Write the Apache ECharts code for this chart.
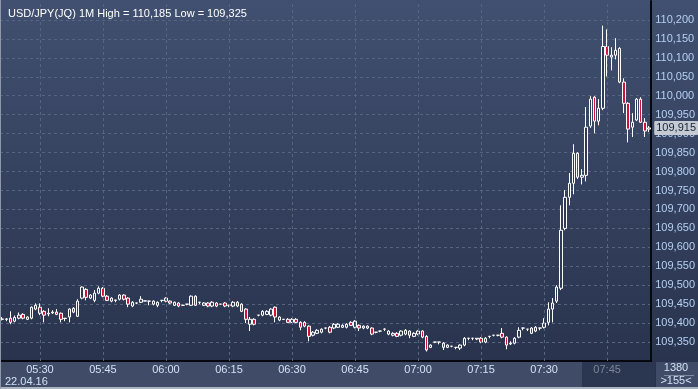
<!DOCTYPE html>
<html><head><meta charset="utf-8">
<script src="https://cdn.jsdelivr.net/npm/echarts@6/dist/echarts.min.js"></script>
<style>html,body{margin:0;padding:0;background:#2c3753}#c{width:698px;height:389px}</style>
</head><body><div id="c"></div><script>
const titleText = 'USD/JPY(JQ) 1M High = 110,185 Low = 109,325';
const dateText = '22.04.16';
const barCountText = '1380';
const visibleText = '>155<';
const times = ['05:21','05:22','05:23','05:24','05:25','05:26','05:27','05:28','05:29','05:30','05:31','05:32','05:33','05:34','05:35','05:36','05:37','05:38','05:39','05:40','05:41','05:42','05:43','05:44','05:45','05:46','05:47','05:48','05:49','05:50','05:51','05:52','05:53','05:54','05:55','05:56','05:57','05:58','05:59',
'06:00','06:01','06:02','06:03','06:04','06:05','06:06','06:07','06:08','06:09','06:10','06:11','06:12','06:13','06:14','06:15','06:16','06:17','06:18','06:19','06:20','06:21','06:22','06:23','06:24','06:25','06:26','06:27','06:28','06:29','06:30','06:31','06:32','06:33','06:34','06:35','06:36','06:37','06:38','06:39','06:40','06:41','06:42','06:43','06:44','06:45','06:46','06:47','06:48','06:49','06:50','06:51','06:52','06:53','06:54','06:55','06:56','06:57','06:58','06:59',
'07:00','07:01','07:02','07:03','07:04','07:05','07:06','07:07','07:08','07:09','07:10','07:11','07:12','07:13','07:14','07:15','07:16','07:17','07:18','07:19','07:20','07:21','07:22','07:23','07:24','07:25','07:26','07:27','07:28','07:29','07:30','07:31','07:32','07:33','07:34','07:35','07:36','07:37','07:38','07:39','07:40','07:41','07:42','07:43','07:44','07:45','07:46','07:47','07:48','07:49','07:50','07:51','07:52','07:53','07:54','07:55'];
const timeTicks = ['05:30','05:45','06:00','06:15','06:30','06:45','07:00','07:15','07:30','07:45'];
const opens = [109.410,109.411,109.413,109.405,109.413,109.423,109.410,109.413,109.437,109.442,
109.431,109.424,109.427,109.429,109.426,109.412,109.416,109.439,109.418,109.466,
109.489,109.466,109.460,109.479,109.492,109.471,109.458,109.461,109.463,109.474,
109.466,109.445,109.453,109.455,109.458,109.458,109.450,109.447,109.460,109.466,
109.458,109.447,109.453,109.447,109.450,109.447,109.471,109.455,109.447,109.453,
109.445,109.453,109.450,109.453,109.447,109.445,109.455,109.450,109.437,109.397,
109.410,109.421,109.421,109.423,109.421,109.442,109.408,109.410,109.410,109.402,
109.410,109.402,109.402,109.392,109.368,109.373,109.376,109.387,109.389,109.387,
109.389,109.389,109.389,109.402,109.389,109.394,109.387,109.387,109.387,109.376,
109.379,109.384,109.371,109.368,109.373,109.368,109.371,109.379,109.365,109.371,
109.379,109.365,109.336,109.350,109.350,109.347,109.336,109.339,109.336,109.334,
109.342,109.360,109.360,109.360,109.360,109.350,109.365,109.368,109.368,109.373,
109.363,109.345,109.347,109.363,109.387,109.384,109.387,109.379,109.387,109.389,
109.402,109.437,109.458,109.492,109.650,109.732,109.769,109.848,109.785,109.790,
109.920,109.996,109.933,109.967,110.130,110.107,110.107,110.125,110.036,109.980,
109.917,109.936,109.991,109.930,109.912];
const closes = [109.411,109.410,109.402,109.415,109.421,109.413,109.416,109.442,109.447,109.426,
109.421,109.426,109.429,109.423,109.410,109.413,109.437,109.429,109.458,109.495,
109.468,109.474,109.479,109.492,109.471,109.460,109.466,109.460,109.474,109.463,
109.450,109.455,109.453,109.463,109.459,109.458,109.458,109.455,109.460,109.458,
109.453,109.455,109.445,109.447,109.450,109.471,109.447,109.455,109.453,109.445,
109.455,109.445,109.450,109.445,109.447,109.455,109.445,109.431,109.410,109.410,
109.397,109.421,109.431,109.431,109.437,109.416,109.416,109.410,109.402,109.410,
109.402,109.389,109.392,109.365,109.376,109.381,109.384,109.387,109.376,109.397,
109.397,109.394,109.397,109.394,109.405,109.387,109.392,109.392,109.371,109.376,
109.379,109.384,109.379,109.373,109.365,109.379,109.381,109.368,109.373,109.379,
109.363,109.329,109.342,109.350,109.350,109.336,109.342,109.339,109.336,109.342,
109.360,109.360,109.360,109.358,109.350,109.360,109.365,109.368,109.368,109.363,
109.342,109.347,109.360,109.381,109.387,109.384,109.373,109.389,109.387,109.400,
109.437,109.453,109.495,109.645,109.732,109.769,109.848,109.785,109.790,109.917,
109.991,109.933,109.967,110.130,110.107,110.102,110.120,110.036,109.980,109.912,
109.930,109.991,109.930,109.907,109.915];
const lows = [109.407,109.405,109.397,109.402,109.410,109.410,109.408,109.410,109.434,109.421,
109.402,109.418,109.424,109.421,109.402,109.405,109.402,109.426,109.416,109.463,
109.460,109.463,109.455,109.476,109.468,109.458,109.455,109.455,109.460,109.460,
109.442,109.442,109.450,109.453,109.458,109.447,109.447,109.442,109.455,109.455,
109.450,109.445,109.442,109.445,109.447,109.445,109.445,109.450,109.445,109.442,
109.442,109.442,109.450,109.442,109.442,109.442,109.442,109.429,109.400,109.379,
109.394,109.418,109.418,109.421,109.418,109.402,109.405,109.408,109.400,109.400,
109.400,109.381,109.389,109.352,109.365,109.371,109.373,109.384,109.373,109.384,
109.387,109.387,109.386,109.392,109.386,109.379,109.384,109.384,109.368,109.373,
109.376,109.379,109.368,109.365,109.363,109.365,109.368,109.360,109.363,109.368,
109.360,109.325,109.334,109.347,109.344,109.329,109.334,109.336,109.331,109.329,
109.339,109.355,109.355,109.355,109.347,109.347,109.360,109.365,109.365,109.360,
109.331,109.342,109.344,109.360,109.381,109.379,109.371,109.376,109.381,109.386,
109.394,109.402,109.453,109.487,109.645,109.711,109.740,109.780,109.766,109.774,
109.915,109.901,109.922,109.962,110.051,110.067,110.096,110.033,109.954,109.877,
109.891,109.933,109.928,109.891,109.904];
const highs = [109.416,109.413,109.431,109.420,109.428,109.426,109.418,109.444,109.452,109.452,
109.434,109.439,109.434,109.437,109.428,109.413,109.439,109.442,109.463,109.497,
109.492,109.476,109.487,109.497,109.495,109.474,109.468,109.461,109.476,109.476,
109.468,109.458,109.453,109.471,109.459,109.458,109.460,109.457,109.461,109.468,
109.460,109.457,109.455,109.447,109.450,109.473,109.473,109.455,109.455,109.455,
109.458,109.455,109.450,109.455,109.447,109.458,109.458,109.452,109.439,109.416,
109.413,109.421,109.434,109.434,109.439,109.444,109.418,109.410,109.413,109.413,
109.413,109.405,109.405,109.394,109.379,109.384,109.386,109.387,109.392,109.400,
109.400,109.397,109.400,109.405,109.408,109.397,109.394,109.394,109.389,109.376,
109.379,109.386,109.381,109.376,109.376,109.381,109.384,109.381,109.376,109.381,
109.381,109.368,109.344,109.350,109.350,109.350,109.344,109.339,109.336,109.344,
109.363,109.360,109.360,109.360,109.363,109.363,109.365,109.368,109.368,109.387,
109.365,109.352,109.363,109.389,109.387,109.384,109.389,109.392,109.387,109.413,
109.455,109.466,109.500,109.711,109.751,109.796,109.872,109.851,109.806,109.970,
109.999,109.999,109.991,110.185,110.175,110.128,110.152,110.128,110.046,109.983,
109.954,109.994,109.996,109.941,109.920];

const candleData = opens.map((o, i) => [o, closes[i], lows[i], highs[i]]);
const lastClose = closes[closes.length - 1];
const fmt = v => Number(v).toFixed(3).replace('.', ',');
const FONT = '"Liberation Sans", Arial, sans-serif';
const gridColor = '#56647f';

const chart = echarts.init(document.getElementById('c'), null, {renderer: 'canvas'});
chart.setOption({
  animation: false,
  backgroundColor: {type: 'linear', x: 0, y: 0, x2: 0, y2: 1,
    colorStops: [{offset: 0, color: '#415070'}, {offset: 1, color: '#27314b'}]},
  textStyle: {fontFamily: FONT},
  title: {text: titleText, left: 3, top: 3,
    textStyle: {color: '#ffffff', fontSize: 11, fontWeight: 'normal', fontFamily: FONT}},
  grid: {left: 0, right: 43, top: 1, bottom: 28},
  xAxis: {
    type: 'category', data: times, boundaryGap: true,
    axisLine: {show: true, onZero: false, lineStyle: {color: '#05080f', width: 2}},
    axisTick: {show: false},
    splitLine: {show: false},
    axisLabel: {
      interval: (idx, val) => timeTicks.indexOf(val) >= 0,
      color: (val) => val === '07:45' ? '#7b869b' : '#d2e0f3',
      fontSize: 11, margin: 3, fontFamily: FONT
    }
  },
  yAxis: {
    type: 'value', position: 'right', min: 109.30, max: 110.25, interval: 0.05, scale: true,
    axisLine: {show: true, lineStyle: {color: '#05080f', width: 2}},
    axisTick: {show: false},
    axisLabel: {formatter: fmt, color: '#b4d0f2', fontSize: 11, margin: 4,
      showMinLabel: false, showMaxLabel: false, fontFamily: FONT},
    splitLine: {show: true, showMinLine: false, showMaxLine: false,
      lineStyle: {color: gridColor, type: [3, 3], width: 1}}
  },
  graphic: [
    {type: 'rect', z: -1, shape: {x: 0, y: 362, width: 655, height: 25}, style: {fill: '#3f4b67'}},
    {type: 'rect', z: -1, shape: {x: 582, y: 362, width: 73, height: 25}, style: {fill: '#2b3651'}},
    {type: 'rect', z: -1, shape: {x: 656, y: 362, width: 42, height: 25}, style: {fill: '#3f4b67'}},
    {type: 'rect', z: 50, shape: {x: 0, y: 387, width: 698, height: 2}, style: {fill: '#aab3c0'}},
    {type: 'rect', z: 50, shape: {x: 0, y: 0, width: 1, height: 389}, style: {fill: '#8d97a8'}},
    {type: 'text', z: 50, left: 5, top: 376, style: {text: dateText, fill: '#d2e0f3', font: '11px ' + FONT}},
    {type: 'text', z: 50, x: 676, y: 368, style: {text: barCountText, fill: '#d2e0f3', font: '11px ' + FONT, textAlign: 'center', textVerticalAlign: 'middle'}},
    {type: 'line', z: 50, shape: {x1: 664, y1: 375.5, x2: 694, y2: 375.5}, style: {stroke: '#7d8aa0', lineWidth: 1}},
    {type: 'text', z: 50, x: 676, y: 381, style: {text: visibleText, fill: '#d2e0f3', font: '11px ' + FONT, textAlign: 'center', textVerticalAlign: 'middle'}}
  ],
  series: [
    {
      type: 'line', data: [], z: 1, silent: true,
      markLine: {silent: true, symbol: ['none', 'none'], label: {show: false},
        lineStyle: {color: gridColor, type: [3, 3], width: 1},
        data: timeTicks.map(t => ({xAxis: t}))}
    },
    {
      type: 'candlestick', data: candleData, z: 3, barWidth: 3,
      itemStyle: {color: '#2f3a56', color0: '#d3103c', borderColor: '#ffffff', borderColor0: '#ffffff', borderWidth: 1},
      markLine: {silent: true, symbol: ['none', 'none'], precision: 3,
        lineStyle: {color: 'rgba(0,0,0,0)', width: 1},
        label: {show: true, position: 'end', distance: 3, formatter: () => fmt(lastClose),
          backgroundColor: '#c6cbd3', color: '#15233a', padding: [2, 2, 1, 2], fontSize: 11, fontFamily: FONT,
          borderRadius: 1},
        data: [{yAxis: lastClose}]}
    }
  ]
});
</script></body></html>
